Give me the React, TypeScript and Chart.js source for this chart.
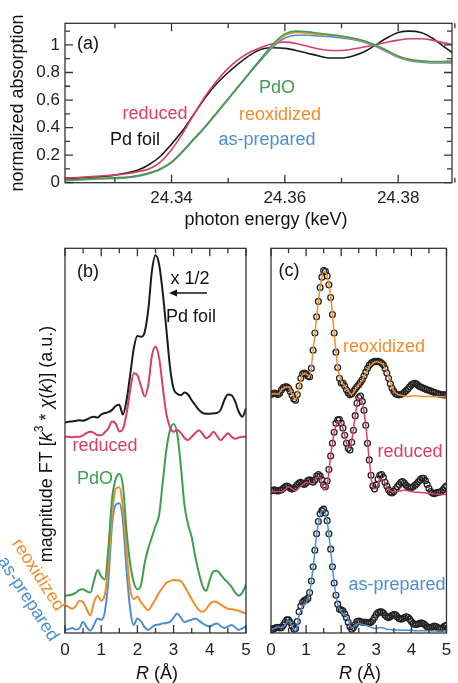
import React, { useEffect, useRef } from "react";
import { Chart, registerables } from "chart.js";
Chart.register(...registerables);

const FONT = '"Liberation Sans", Arial, Helvetica, sans-serif';
const C_BLACK = "#1b1b1b";
const C_RED = "#d8405f";
const C_GREEN = "#3d9e50";
const C_ORANGE = "#f28c2e";
const C_BLUE = "#4a8fd0";

// ---------- panel (a): XANES ----------
const E_KEV = [24.320, 24.322, 24.324, 24.326, 24.328, 24.330, 24.332, 24.334, 24.336, 24.338,
  24.340, 24.342, 24.344, 24.346, 24.348, 24.350, 24.352, 24.354, 24.356, 24.358,
  24.360, 24.362, 24.364, 24.366, 24.368, 24.370, 24.372, 24.374, 24.376, 24.378,
  24.380, 24.382, 24.384, 24.386, 24.388, 24.390];
const A_FOIL = [0.03, 0.03, 0.035, 0.04, 0.045, 0.055, 0.07, 0.09, 0.13, 0.19,
  0.28, 0.38, 0.50, 0.62, 0.72, 0.80, 0.87, 0.93, 0.97, 0.98,
  0.975, 0.96, 0.94, 0.92, 0.905, 0.905, 0.92, 0.95, 1.00, 1.05,
  1.09, 1.10, 1.09, 1.05, 0.99, 0.93];
const A_REDUCED = [0.035, 0.035, 0.04, 0.045, 0.05, 0.055, 0.065, 0.08, 0.10, 0.15,
  0.24, 0.36, 0.50, 0.63, 0.74, 0.83, 0.90, 0.95, 0.985, 1.01,
  1.02, 1.01, 0.99, 0.97, 0.96, 0.96, 0.97, 0.985, 1.00, 1.02,
  1.035, 1.045, 1.045, 1.035, 1.015, 1.00];
const A_PDO = [0.02, 0.02, 0.025, 0.03, 0.03, 0.035, 0.04, 0.05, 0.07, 0.10,
  0.15, 0.23, 0.32, 0.41, 0.51, 0.61, 0.71, 0.81, 0.91, 1.01,
  1.08, 1.10, 1.095, 1.085, 1.075, 1.065, 1.05, 1.03, 1.00, 0.96,
  0.92, 0.895, 0.885, 0.88, 0.88, 0.885];
const A_REOX = [0.02, 0.02, 0.025, 0.03, 0.03, 0.035, 0.04, 0.05, 0.07, 0.10,
  0.15, 0.23, 0.32, 0.41, 0.51, 0.61, 0.71, 0.81, 0.91, 1.00,
  1.07, 1.09, 1.085, 1.075, 1.07, 1.06, 1.045, 1.025, 0.995, 0.955,
  0.915, 0.89, 0.88, 0.875, 0.875, 0.88];
const A_ASPREP = [0.015, 0.015, 0.02, 0.025, 0.03, 0.03, 0.035, 0.045, 0.065, 0.095,
  0.145, 0.225, 0.315, 0.405, 0.505, 0.605, 0.705, 0.805, 0.90, 0.99,
  1.05, 1.07, 1.07, 1.065, 1.06, 1.05, 1.04, 1.02, 0.99, 0.95,
  0.91, 0.885, 0.875, 0.87, 0.87, 0.87];
const A_X_LABELS = [24.34, 24.36, 24.38];
const A_X_MINOR = [24.33, 24.35, 24.37, 24.39];
const A_Y_LABELS = [0, 0.2, 0.4, 0.6, 0.8, 1];
const A_Y_MINOR = [0.1, 0.3, 0.5, 0.7, 0.9, 1.1];

// ---------- panel (b): FT magnitudes (offset) ----------
const R_01 = [0, 0.1, 0.2, 0.3, 0.4, 0.5, 0.6, 0.7, 0.8, 0.9,
  1.0, 1.1, 1.2, 1.3, 1.4, 1.5, 1.6, 1.7, 1.8, 1.9,
  2.0, 2.1, 2.2, 2.3, 2.4, 2.5, 2.6, 2.7, 2.8, 2.9,
  3.0, 3.1, 3.2, 3.3, 3.4, 3.5, 3.6, 3.7, 3.8, 3.9,
  4.0, 4.1, 4.2, 4.3, 4.4, 4.5, 4.6, 4.7, 4.8, 4.9, 5.0];
const B_FOIL = [5.47, 5.49, 5.50, 5.52, 5.53, 5.52, 5.55, 5.60, 5.62, 5.60,
  5.68, 5.72, 5.74, 5.80, 5.90, 5.93, 5.68, 6.05, 6.70, 7.40,
  7.72, 7.70, 7.82, 8.40, 9.40, 9.82, 9.58, 8.85, 7.90, 6.92,
  6.35, 6.22, 6.18, 6.25, 6.20, 6.05, 5.92, 5.80, 5.72, 5.70,
  5.70, 5.71, 5.72, 5.80, 6.05, 6.20, 6.18, 6.02, 5.75, 5.62, 5.84];
const B_REDUCED = [5.10, 5.10, 5.09, 5.10, 5.10, 5.14, 5.20, 5.23, 5.20, 5.14,
  5.14, 5.22, 5.32, 5.50, 5.45, 5.24, 5.30, 5.70, 6.31, 6.75,
  6.70, 6.42, 6.15, 6.45, 7.20, 7.45, 7.15, 6.40, 5.70, 5.35,
  5.23, 5.28, 5.20, 5.07, 5.02, 5.10, 5.20, 5.27, 5.18, 5.06,
  5.12, 5.23, 5.12, 5.01, 5.10, 5.19, 5.10, 5.05, 5.08, 5.10, 5.10];
const B_PDO = [0.97, 0.98, 1.00, 1.05, 1.12, 1.14, 1.08, 1.05, 1.35, 1.64,
  1.47, 1.39, 2.23, 3.50, 4.00, 4.13, 3.83, 2.65, 1.81, 1.31,
  1.14, 1.25, 1.81, 2.20, 2.49, 2.78, 3.07, 3.92, 4.76, 5.27,
  5.43, 5.18, 4.34, 3.33, 2.82, 2.49, 1.98, 1.56, 1.22, 1.10,
  1.39, 1.60, 1.62, 1.52, 1.40, 1.31, 1.20, 1.05, 0.97, 1.05, 1.26];
const B_REOX = [0.72, 0.68, 0.63, 0.70, 0.84, 0.80, 0.62, 0.46, 0.80, 0.97,
  0.84, 1.00, 1.81, 3.07, 3.75, 3.79, 3.24, 2.15, 1.14, 0.88,
  0.95, 0.80, 0.68, 0.59, 0.72, 0.88, 1.05, 1.18, 1.30, 1.35,
  1.38, 1.37, 1.35, 1.22, 1.05, 0.88, 0.72, 0.60, 0.55, 0.62,
  0.76, 0.82, 0.80, 0.74, 0.68, 0.63, 0.62, 0.60, 0.58, 0.54, 0.51];
const B_ASPREP = [0.08, 0.10, 0.13, 0.09, 0.12, 0.29, 0.15, 0.06, 0.21, 0.38,
  0.34, 0.55, 1.39, 2.82, 3.33, 3.37, 2.91, 1.64, 0.63, 0.21,
  0.38, 0.30, 0.15, 0.08, 0.15, 0.21, 0.22, 0.25, 0.26, 0.29,
  0.40, 0.51, 0.40, 0.28, 0.32, 0.34, 0.38, 0.32, 0.25, 0.20,
  0.17, 0.22, 0.25, 0.18, 0.13, 0.17, 0.21, 0.15, 0.08, 0.12, 0.17];
const R_LABELS = [0, 1, 2, 3, 4, 5];
const R_MINOR = [0.5, 1.5, 2.5, 3.5, 4.5];

// ---------- panel (c): data (circles) and fits (lines) ----------
const R_005 = [0, 0.05, 0.1, 0.15, 0.2, 0.25, 0.3, 0.35, 0.4, 0.45,
  0.5, 0.55, 0.6, 0.65, 0.7, 0.75, 0.8, 0.85, 0.9, 0.95,
  1.0, 1.05, 1.1, 1.15, 1.2, 1.25, 1.3, 1.35, 1.4, 1.45,
  1.5, 1.55, 1.6, 1.65, 1.7, 1.75, 1.8, 1.85, 1.9, 1.95,
  2.0, 2.05, 2.1, 2.15, 2.2, 2.25, 2.3, 2.35, 2.4, 2.45,
  2.5, 2.55, 2.6, 2.65, 2.7, 2.75, 2.8, 2.85, 2.9, 2.95,
  3.0, 3.05, 3.1, 3.15, 3.2, 3.25, 3.3, 3.35, 3.4, 3.45,
  3.5, 3.55, 3.6, 3.65, 3.7, 3.75, 3.8, 3.85, 3.9, 3.95,
  4.0, 4.05, 4.1, 4.15, 4.2, 4.25, 4.3, 4.35, 4.4, 4.45,
  4.5, 4.55, 4.6, 4.65, 4.7, 4.75, 4.8, 4.85, 4.9, 4.95, 5.0];
const C_REOX_FIT = [6.21, 6.22, 6.21, 6.32, 6.38, 6.40, 6.22, 6.07, 6.40, 6.72,
  6.74, 6.66, 7.35, 8.22, 8.98, 9.40, 9.28, 8.75, 7.80, 6.92,
  6.55, 6.42, 6.30, 6.20, 6.33, 6.45, 6.58, 6.75, 6.92, 7.00,
  7.05, 7.03, 6.97, 6.78, 6.52, 6.30, 6.20, 6.18, 6.16, 6.15,
  6.16, 6.17, 6.16, 6.15, 6.15, 6.15, 6.14, 6.15, 6.14, 6.14, 6.15];
const C_REOX_DATA = [6.20, 6.22, 6.24, 6.22, 6.20, 6.24, 6.32, 6.38, 6.40, 6.40,
  6.36, 6.28, 6.18, 6.08, 6.05, 6.20, 6.42, 6.62, 6.74, 6.76,
  6.74, 6.68, 6.66, 6.88, 7.35, 7.80, 8.22, 8.62, 8.98, 9.25,
  9.42, 9.40, 9.28, 9.05, 8.72, 8.28, 7.80, 7.30, 6.90, 6.62,
  6.50, 6.50, 6.42, 6.32, 6.24, 6.19, 6.22, 6.28, 6.34, 6.40,
  6.45, 6.52, 6.58, 6.68, 6.78, 6.88, 6.96, 7.01, 7.04, 7.06,
  7.06, 7.06, 7.05, 7.02, 6.97, 6.88, 6.76, 6.62, 6.48, 6.36,
  6.28, 6.22, 6.20, 6.19, 6.20, 6.22, 6.26, 6.30, 6.34, 6.40,
  6.45, 6.48, 6.49, 6.47, 6.43, 6.40, 6.38, 6.36, 6.34, 6.32,
  6.31, 6.29, 6.27, 6.26, 6.24, 6.22, 6.21, 6.20, 6.19, 6.19, 6.19];
const C_RED_FIT = [3.67, 3.67, 3.68, 3.67, 3.73, 3.80, 3.75, 3.70, 3.78, 3.85,
  3.92, 3.90, 3.88, 4.05, 4.05, 3.72, 3.85, 4.60, 5.20, 5.50,
  5.45, 5.15, 4.80, 5.00, 5.65, 6.10, 6.00, 5.40, 4.50, 3.80,
  3.75, 4.00, 3.98, 3.80, 3.70, 3.67, 3.68, 3.70, 3.71, 3.70,
  3.68, 3.66, 3.66, 3.65, 3.64, 3.63, 3.62, 3.61, 3.60, 3.60, 3.60];
const C_RED_DATA = [3.70, 3.71, 3.72, 3.70, 3.69, 3.71, 3.72, 3.76, 3.80, 3.82,
  3.80, 3.76, 3.74, 3.76, 3.80, 3.86, 3.90, 3.92, 3.88, 3.86,
  3.90, 3.96, 3.98, 3.94, 3.92, 3.98, 4.08, 4.12, 4.08, 3.98,
  3.85, 3.80, 3.95, 4.25, 4.60, 4.93, 5.22, 5.45, 5.54, 5.55,
  5.46, 5.33, 5.14, 4.93, 4.80, 4.76, 4.96, 5.27, 5.65, 5.97,
  6.12, 6.16, 6.02, 5.79, 5.40, 4.93, 4.50, 4.10, 3.82, 3.74,
  3.85, 4.00, 4.10, 4.12, 4.05, 3.92, 3.82, 3.72, 3.66, 3.64,
  3.68, 3.74, 3.80, 3.86, 3.92, 3.94, 3.90, 3.84, 3.80, 3.78,
  3.78, 3.80, 3.84, 3.88, 3.93, 3.98, 4.02, 4.02, 3.96, 3.86,
  3.76, 3.68, 3.64, 3.62, 3.64, 3.66, 3.66, 3.68, 3.72, 3.78, 3.82];
const C_AS_FIT = [0.08, 0.12, 0.16, 0.14, 0.20, 0.32, 0.18, 0.05, 0.45, 0.70,
  0.80, 1.05, 1.70, 2.55, 3.05, 3.20, 2.90, 2.15, 1.30, 0.75,
  0.55, 0.48, 0.35, 0.13, 0.20, 0.25, 0.22, 0.20, 0.17, 0.13,
  0.12, 0.14, 0.13, 0.10, 0.09, 0.08, 0.08, 0.07, 0.07, 0.07,
  0.07, 0.06, 0.06, 0.06, 0.06, 0.06, 0.05, 0.05, 0.05, 0.05, 0.05];
const C_AS_DATA = [0.08, 0.10, 0.12, 0.14, 0.15, 0.13, 0.14, 0.20, 0.28, 0.34,
  0.34, 0.28, 0.18, 0.10, 0.12, 0.30, 0.55, 0.70, 0.80, 0.85,
  0.86, 0.90, 1.05, 1.35, 1.72, 2.15, 2.58, 2.90, 3.10, 3.18,
  3.22, 3.12, 2.92, 2.58, 2.18, 1.72, 1.30, 0.98, 0.75, 0.62,
  0.60, 0.58, 0.50, 0.40, 0.28, 0.16, 0.10, 0.14, 0.22, 0.30,
  0.31, 0.30, 0.28, 0.28, 0.28, 0.27, 0.26, 0.28, 0.33, 0.40,
  0.48, 0.53, 0.55, 0.55, 0.52, 0.46, 0.42, 0.40, 0.42, 0.46,
  0.48, 0.47, 0.42, 0.38, 0.36, 0.37, 0.40, 0.42, 0.41, 0.36,
  0.30, 0.25, 0.22, 0.22, 0.24, 0.26, 0.26, 0.24, 0.20, 0.16,
  0.14, 0.14, 0.16, 0.18, 0.17, 0.14, 0.12, 0.12, 0.14, 0.18, 0.20];

// ---------- helpers ----------
const xy = (xs: number[], ys: number[]) => ys.map((y, i) => ({ x: xs[i], y }));

type Seg = { t: string; it?: boolean; sup?: boolean };
type TextItem = { segs: Seg[]; x: number; y: number; color: string; size?: number; rot?: number };

function drawRich(ctx: CanvasRenderingContext2D, item: TextItem) {
  const size = item.size ?? 18;
  const fontOf = (s: Seg) => `${s.it ? "italic " : ""}${s.sup ? Math.round(size * 0.65) : size}px ${FONT}`;
  const widths = item.segs.map((s) => {
    ctx.font = fontOf(s);
    return ctx.measureText(s.t).width;
  });
  const total = widths.reduce((a, b) => a + b, 0);
  ctx.save();
  ctx.translate(item.x, item.y);
  ctx.rotate(((item.rot || 0) * Math.PI) / 180);
  ctx.textBaseline = "middle";
  ctx.textAlign = "left";
  ctx.fillStyle = item.color;
  let x = -total / 2;
  item.segs.forEach((s, i) => {
    ctx.font = fontOf(s);
    ctx.fillText(s.t, x, s.sup ? -size * 0.38 : 0);
    x += widths[i];
  });
  ctx.restore();
}
const T = (t: string, x: number, y: number, color: string, rot = 0): TextItem => ({ segs: [{ t }], x, y, color, rot });

type FrameCfg = {
  xMajor: number[]; xMinor: number[]; yMajor?: number[]; yMinor?: number[];
  texts: TextItem[]; arrow?: number[];
};
function framePlugin(cfg: FrameCfg) {
  return {
    id: "frame",
    afterDraw(chart: any) {
      const { ctx, chartArea: a } = chart;
      const sx = chart.scales.x;
      const sy = chart.scales.y;
      ctx.save();
      ctx.strokeStyle = "#333";
      ctx.lineWidth = 1.3;
      ctx.beginPath();
      const seg = (x1: number, y1: number, x2: number, y2: number) => { ctx.moveTo(x1, y1); ctx.lineTo(x2, y2); };
      const xt = (vals: number[], len: number) => vals.forEach((v) => {
        const p = sx.getPixelForValue(v);
        seg(p, a.bottom, p, a.bottom - len);
        seg(p, a.top, p, a.top + len);
      });
      const yt = (vals: number[], len: number) => vals.forEach((v) => {
        const p = sy.getPixelForValue(v);
        seg(a.left, p, a.left + len, p);
        seg(a.right, p, a.right - len, p);
      });
      xt(cfg.xMajor, 8);
      xt(cfg.xMinor, 5);
      if (cfg.yMajor) yt(cfg.yMajor, 8);
      if (cfg.yMinor) yt(cfg.yMinor, 5);
      ctx.stroke();
      ctx.strokeRect(a.left, a.top, a.right - a.left, a.bottom - a.top);
      if (cfg.arrow) {
        const [x1, x2, y] = cfg.arrow;
        ctx.strokeStyle = "#111";
        ctx.lineWidth = 1.4;
        ctx.beginPath();
        ctx.moveTo(x1, y);
        ctx.lineTo(x2 + 4, y);
        ctx.stroke();
        ctx.fillStyle = "#111";
        ctx.beginPath();
        ctx.moveTo(x2, y);
        ctx.lineTo(x2 + 8, y - 3.5);
        ctx.lineTo(x2 + 8, y + 3.5);
        ctx.closePath();
        ctx.fill();
      }
      cfg.texts.forEach((t) => drawRich(ctx, t));
      ctx.restore();
    },
  };
}

const tickFont = { family: FONT, size: 17 };
function xScale(min: number, max: number, labels: number[], fmt: (v: number) => string, pad: number) {
  return {
    type: "linear", min, max,
    grid: { display: false, drawTicks: false },
    border: { display: false },
    ticks: { font: tickFont, color: "#222", padding: pad, maxRotation: 0, autoSkip: false, callback: (v: any) => fmt(Number(v)) },
    afterBuildTicks: (s: any) => { s.ticks = labels.map((v) => ({ value: v })); },
    afterFit: (s: any) => { s.height = 40; },
  };
}
const line = (data: any[], color: string, width: number, extra: any = {}) => ({
  data, borderColor: color, backgroundColor: color, borderWidth: width, pointRadius: 0,
  cubicInterpolationMode: "monotone", fill: false, borderJoinStyle: "round", ...extra,
});
const circles = (data: any[]) => ({
  data, showLine: false, pointRadius: 2.9, pointBorderWidth: 1.3, pointBorderColor: "#222",
  pointBackgroundColor: "rgba(255,255,255,0)", borderColor: "#222",
});
const baseOptions = (padding: any, scales: any) => ({
  responsive: false, animation: false as const, events: [] as any[],
  layout: { padding },
  plugins: { legend: { display: false }, tooltip: { enabled: false } },
  scales,
});

function configA(): any {
  return {
    type: "line",
    data: {
      datasets: [
        line(xy(E_KEV, A_PDO), C_GREEN, 1.6),
        line(xy(E_KEV, A_REOX), C_ORANGE, 1.6),
        line(xy(E_KEV, A_ASPREP), C_BLUE, 1.6),
        line(xy(E_KEV, A_REDUCED), C_RED, 1.6),
        line(xy(E_KEV, A_FOIL), C_BLACK, 1.6),
      ],
    },
    options: baseOptions({ left: 5, right: 6, top: 23.3, bottom: 460.3 }, {
      x: xScale(24.3212, 24.3895, A_X_LABELS, (v) => v.toFixed(2), 5.6),
      y: {
        type: "linear", min: 0, max: 1.157,
        grid: { display: false, drawTicks: false }, border: { display: false },
        ticks: { font: tickFont, color: "#222", padding: 5, callback: (v: any) => String(v) },
        afterBuildTicks: (s: any) => { s.ticks = A_Y_LABELS.map((v) => ({ value: v })); },
        afterFit: (s: any) => { s.width = 60; },
      },
    }),
    plugins: [framePlugin({
      xMajor: A_X_LABELS, xMinor: A_X_MINOR, yMajor: A_Y_LABELS, yMinor: A_Y_MINOR,
      texts: [
        T("normalized absorption", 18, 103, "#111", -90),
        T("photon energy (keV)", 266, 220, "#111"),
        T("(a)", 88, 44, "#111"),
        T("reduced", 155, 114, C_RED),
        T("Pd foil", 135, 140, "#111"),
        T("PdO", 277, 88, C_GREEN),
        T("reoxidized", 280, 115, C_ORANGE),
        T("as-prepared", 267, 140, C_BLUE),
      ],
    })],
  };
}

function configB(): any {
  return {
    type: "line",
    data: {
      datasets: [
        line(xy(R_01, B_FOIL), C_BLACK, 2),
        line(xy(R_01, B_REDUCED), C_RED, 2),
        line(xy(R_01, B_PDO), C_GREEN, 2),
        line(xy(R_01, B_REOX), C_ORANGE, 2),
        line(xy(R_01, B_ASPREP), C_BLUE, 2),
      ],
    },
    options: baseOptions({ left: 65, right: 212, top: 248.3, bottom: 10 }, {
      x: xScale(0, 5, R_LABELS, (v) => String(v), 6.8),
      y: { type: "linear", min: 0, max: 10, display: false },
    }),
    plugins: [framePlugin({
      xMajor: R_LABELS, xMinor: R_MINOR,
      arrow: [207, 169, 293],
      texts: [
        { segs: [{ t: "magnitude FT [" }, { t: "k", it: true }, { t: "3", sup: true }, { t: " * " }, { t: "χ", it: true }, { t: "(" }, { t: "k", it: true }, { t: ")] (a.u.)" }], x: 47, y: 444, color: "#111", rot: -90 },
        { segs: [{ t: "R", it: true }, { t: " (Å)" }], x: 157, y: 674, color: "#111" },
        T("(b)", 88, 272, "#111"),
        T("x 1/2", 190, 279, "#111"),
        T("Pd foil", 191, 317, "#111"),
        T("reduced", 105, 446, C_RED),
        T("PdO", 95, 479, C_GREEN),
        T("reoxidized", 38, 575, C_ORANGE, 57),
        T("as-prepared", 28, 599, C_BLUE, 57),
      ],
    })],
  };
}

function configC(): any {
  return {
    type: "line",
    data: {
      datasets: [
        line(xy(R_01, C_REOX_FIT), C_ORANGE, 1.5),
        line(xy(R_01, C_RED_FIT), C_RED, 1.5),
        line(xy(R_01, C_AS_FIT), C_BLUE, 1.5),
        circles(xy(R_005, C_REOX_DATA)),
        circles(xy(R_005, C_RED_DATA)),
        circles(xy(R_005, C_AS_DATA)),
      ],
    },
    options: baseOptions({ left: 271, right: 7, top: 248.3, bottom: 10 }, {
      x: xScale(0, 5, R_LABELS, (v) => String(v), 6.8),
      y: { type: "linear", min: 0, max: 10, display: false },
    }),
    plugins: [framePlugin({
      xMajor: R_LABELS, xMinor: R_MINOR,
      texts: [
        { segs: [{ t: "R", it: true }, { t: " (Å)" }], x: 360, y: 674, color: "#111" },
        T("(c)", 289, 271, "#111"),
        T("reoxidized", 384, 347, C_ORANGE),
        T("reduced", 410, 452, C_RED),
        T("as-prepared", 397, 585, C_BLUE),
      ],
    })],
  };
}

export default function App() {
  const refA = useRef<HTMLCanvasElement>(null);
  const refB = useRef<HTMLCanvasElement>(null);
  const refC = useRef<HTMLCanvasElement>(null);
  useEffect(() => {
    const charts = [
      new Chart(refA.current as HTMLCanvasElement, configA()),
      new Chart(refB.current as HTMLCanvasElement, configB()),
      new Chart(refC.current as HTMLCanvasElement, configC()),
    ];
    return () => charts.forEach((c) => c.destroy());
  }, []);
  const cs: React.CSSProperties = { position: "absolute", left: 0, top: 0, width: 458, height: 683 };
  return (
    <div style={{ position: "fixed", left: 0, top: 0, width: 458, height: 683, background: "#fff" }}>
      <canvas ref={refA} width={458} height={683} style={cs} />
      <canvas ref={refB} width={458} height={683} style={cs} />
      <canvas ref={refC} width={458} height={683} style={cs} />
    </div>
  );
}
